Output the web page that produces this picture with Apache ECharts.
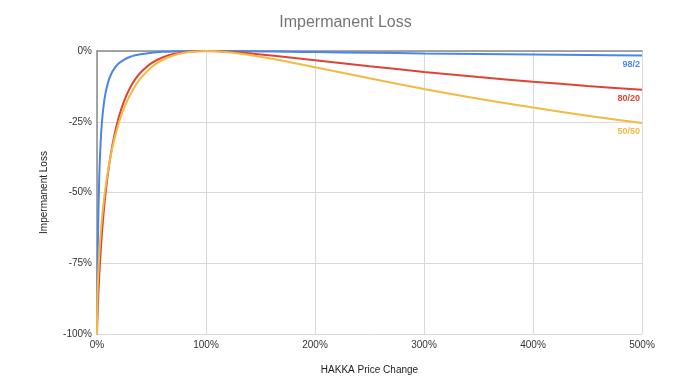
<!DOCTYPE html>
<html><head><meta charset="utf-8">
<script src="https://cdn.jsdelivr.net/npm/echarts@6/dist/echarts.min.js"></script>
<style>html,body{margin:0;padding:0;background:#fff}#c{width:691px;height:383px}</style>
</head><body><div id="c"></div>
<script>
const priceChange = [0, 0.1, 0.5, 1, 2, 3, 4, 5, 7, 10, 13, 16, 20, 25, 30, 35, 40, 50, 60, 70, 80, 90, 100, 110, 125, 150, 175, 200, 250, 300, 350, 400, 450, 500];
const loss98_2 = [-100, -94.53, -77.68, -63.20, -45.38, -34.88, -27.95, -23.06, -16.66, -11.26, -8.13, -6.13, -4.35, -3.01, -2.12, -1.53, -1.12, -0.59, -0.30, -0.14, -0.05, -0.01, 0, -0.01, -0.04, -0.14, -0.25, -0.38, -0.62, -0.85, -1.06, -1.26, -1.43, -1.60];
const loss80_20 = [-100, -98.02, -92.93, -87.92, -79.75, -73.00, -67.18, -62.07, -53.45, -43.40, -35.69, -29.63, -23.35, -17.53, -13.25, -10.04, -7.61, -4.27, -2.28, -1.08, -0.42, -0.09, 0, -0.07, -0.38, -1.20, -2.20, -3.27, -5.39, -7.38, -9.19, -10.84, -12.34, -13.72];
const loss50_50 = [-100, -93.68, -85.93, -80.20, -72.27, -66.37, -61.54, -57.41, -50.55, -42.50, -36.18, -31.03, -25.46, -20.00, -15.73, -12.35, -9.65, -5.72, -3.18, -1.57, -0.62, -0.14, 0, -0.11, -0.62, -2.02, -3.79, -5.72, -9.65, -13.40, -16.85, -20.00, -22.86, -25.46];
const seriesNames = ['98/2', '80/20', '50/50'];
const xTicks = [0, 100, 200, 300, 400, 500];
const yTicks = [-100, -75, -50, -25, 0];

const FONT = '"Liberation Sans", Arial, sans-serif';
const colors = ['#4a86e8', '#db4437', '#f4b942'];
const pair = arr => priceChange.map((x, i) => [x, arr[i]]);
const allLoss = [loss98_2, loss80_20, loss50_50];

const chart = echarts.init(document.getElementById('c'), null, {renderer: 'canvas'});
chart.setOption({
  animation: false,
  backgroundColor: '#fff',
  textStyle: {fontFamily: FONT},
  title: {
    text: 'Impermanent Loss', left: 'center', top: 10,
    textStyle: {fontFamily: FONT, fontSize: 16, fontWeight: 'normal', color: '#757575'}
  },
  grid: {left: 97, right: 49, top: 51, bottom: 49},
  xAxis: [{
    type: 'value', min: xTicks[0], max: xTicks[xTicks.length - 1], interval: 100,
    name: 'HAKKA Price Change', nameLocation: 'middle', nameGap: 31,
    nameTextStyle: {fontFamily: FONT, fontSize: 10, color: '#222'},
    axisLine: {show: false}, axisTick: {show: false},
    axisLabel: {formatter: v => v + '%', fontSize: 10, color: '#333', margin: 6},
    splitLine: {show: true, lineStyle: {color: '#d9d9d9', width: 1}}
  }, {
    type: 'value', position: 'top', min: 0, max: 500,
    axisLine: {show: true, onZero: false, lineStyle: {color: '#8a8a8a', width: 1.5}},
    axisTick: {show: false}, axisLabel: {show: false}, splitLine: {show: false}
  }],
  yAxis: {
    type: 'value', min: yTicks[0], max: yTicks[yTicks.length - 1], interval: 25,
    name: 'Impermanent Loss', nameLocation: 'middle', nameGap: 48,
    nameTextStyle: {fontFamily: FONT, fontSize: 10, color: '#222'},
    axisLine: {show: true, lineStyle: {color: '#8a8a8a', width: 1.5}},
    axisTick: {show: false},
    axisLabel: {formatter: v => v + '%', fontSize: 10, color: '#333', margin: 5},
    splitLine: {show: true, lineStyle: {color: '#d9d9d9', width: 1}}
  },
  series: seriesNames.map((n, i) => ({
    name: n, type: 'line', xAxisIndex: 0, data: pair(allLoss[i]),
    symbol: 'none', smooth: 0.3,
    lineStyle: {color: colors[i], width: 2},
    itemStyle: {color: colors[i]},
    endLabel: {
      show: true, formatter: n, align: 'right', verticalAlign: 'top',
      offset: [-10, 4], fontFamily: FONT, fontSize: 9, fontWeight: 'bold', color: colors[i]
    }
  }))
});
</script></body></html>
